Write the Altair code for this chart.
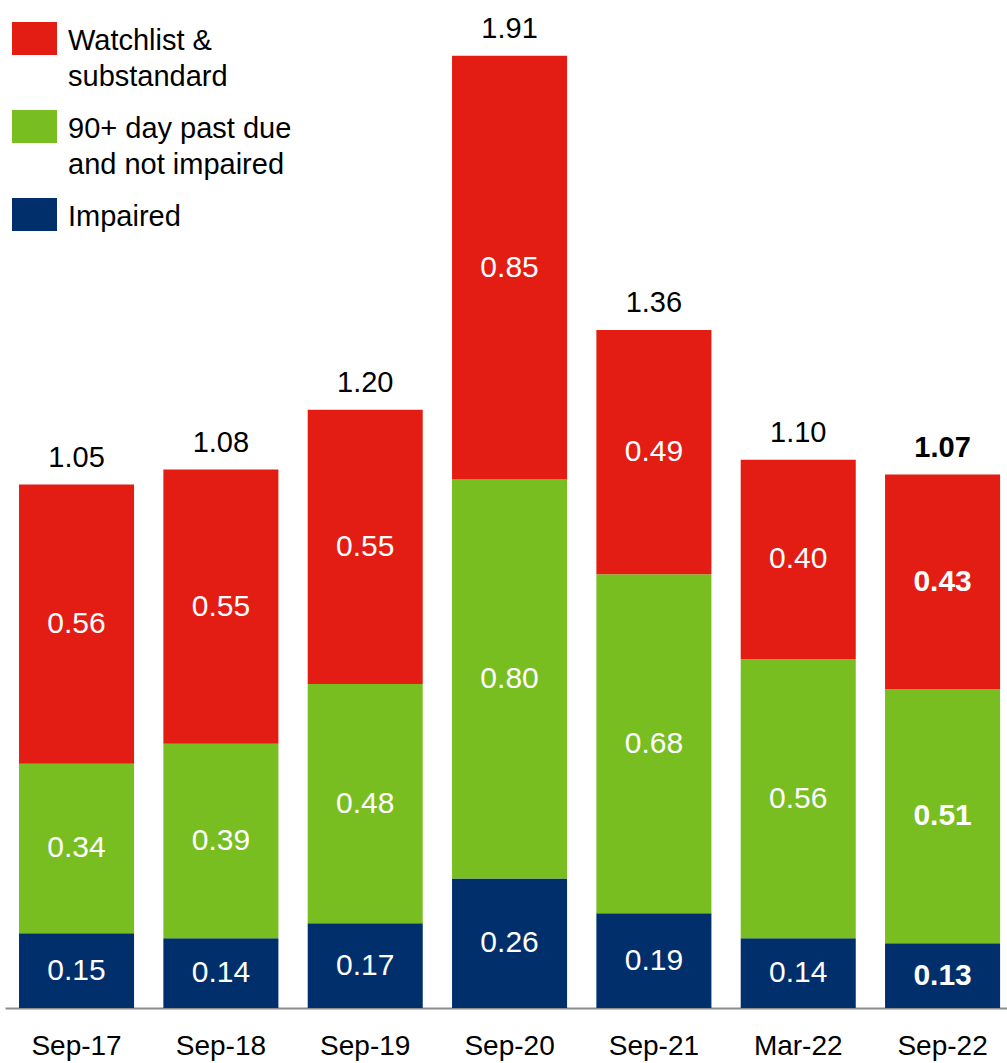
import altair as alt
import pandas as pd

periods = ["Sep-17", "Sep-18", "Sep-19", "Sep-20", "Sep-21", "Mar-22", "Sep-22"]
categories = ["Watchlist & substandard", "90+ day past due and not impaired", "Impaired"]
colors = ["#E31D14", "#78BE21", "#002F6C"]
watchlist = [0.56, 0.55, 0.55, 0.85, 0.49, 0.40, 0.43]
past_due = [0.34, 0.39, 0.48, 0.80, 0.68, 0.56, 0.51]
impaired = [0.15, 0.14, 0.17, 0.26, 0.19, 0.14, 0.13]
totals = [1.05, 1.08, 1.20, 1.91, 1.36, 1.10, 1.07]
highlight = "Sep-22"

FONT = "Liberation Sans"

rows = []
series = [(categories[2], impaired), (categories[1], past_due), (categories[0], watchlist)]
for i, p in enumerate(periods):
    for order, (cat, vals) in enumerate(series):
        rows.append({"period": p, "category": cat, "value": vals[i], "order": order,
                     "bold": p == highlight})
df = pd.DataFrame(rows)
tot = pd.DataFrame({"period": periods, "total": totals,
                    "bold": [p == highlight for p in periods]})

xenc = alt.X("period:N", sort=periods,
             scale=alt.Scale(paddingInner=0.203, paddingOuter=0.0725, align=0.67),
             axis=alt.Axis(title=None, labelAngle=0, ticks=False, tickSize=0,
                           domainColor="#8C8C8C", domainWidth=2,
                           labelFontSize=28, labelFont=FONT, labelColor="#000000",
                           labelPadding=24))
yscale = alt.Scale(domain=[0, 2.0], nice=False, zero=True)

label_expr = ("datum.label == 'Watchlist & substandard' ? ['Watchlist &', 'substandard'] : "
              "datum.label == '90+ day past due and not impaired' ? "
              "['90+ day past due', 'and not impaired'] : datum.label")

stacked = alt.Chart(df).transform_stack(
    stack="value", groupby=["period"], as_=["y0", "y1"],
    sort=[alt.SortField("order", order="ascending")]
).transform_calculate(mid="(datum.y0 + datum.y1) / 2")

bars = stacked.mark_bar(strokeWidth=0).encode(
    x=xenc,
    y=alt.Y("y1:Q", scale=yscale, axis=None),
    y2="y0:Q",
    color=alt.Color("category:N",
                    scale=alt.Scale(domain=categories, range=colors),
                    legend=alt.Legend(title=None, orient="none", legendX=7, legendY=-7,
                                      symbolType="M-1,-0.2L1,-0.2L1,1.267L-1,1.267Z",
                                      symbolSize=2025, symbolStrokeWidth=0,
                                      symbolOpacity=1,
                                      labelFont=FONT, labelFontSize=29,
                                      labelColor="#000000", labelBaseline="top",
                                      labelOffset=11, labelLimit=400,
                                      rowPadding=-2, padding=0,
                                      labelExpr=label_expr)),
)

seg_norm = stacked.transform_filter("!datum.bold").mark_text(
    font=FONT, fontSize=30, color="white", baseline="middle").encode(
    x=xenc, y=alt.Y("mid:Q", scale=yscale), text=alt.Text("value:Q", format=".2f"))
seg_bold = stacked.transform_filter("datum.bold").mark_text(
    font=FONT, fontSize=30, color="white", baseline="middle", fontWeight="bold").encode(
    x=xenc, y=alt.Y("mid:Q", scale=yscale), text=alt.Text("value:Q", format=".2f"))

tot_base = alt.Chart(tot)
tot_norm = tot_base.transform_filter("!datum.bold").mark_text(
    font=FONT, fontSize=29, color="#000000", baseline="alphabetic", dy=-18).encode(
    x=xenc, y=alt.Y("total:Q", scale=yscale), text=alt.Text("total:Q", format=".2f"))
tot_bold = tot_base.transform_filter("datum.bold").mark_text(
    font=FONT, fontSize=29, color="#000000", baseline="alphabetic", dy=-18,
    fontWeight="bold").encode(
    x=xenc, y=alt.Y("total:Q", scale=yscale), text=alt.Text("total:Q", format=".2f"))

chart = alt.layer(bars, seg_norm, seg_bold, tot_norm, tot_bold).properties(
    width=1002, height=997,
    autosize=alt.AutoSizeParams(type="none"),
    padding={"left": 5, "top": 11, "right": 0, "bottom": 55},
).configure(
    background="white",
    style={"guide-label": {"lineHeight": 36}},
    view=alt.ViewConfig(stroke=None),
)

chart.save("out.html", embed_options={"renderer": "svg", "actions": False})
